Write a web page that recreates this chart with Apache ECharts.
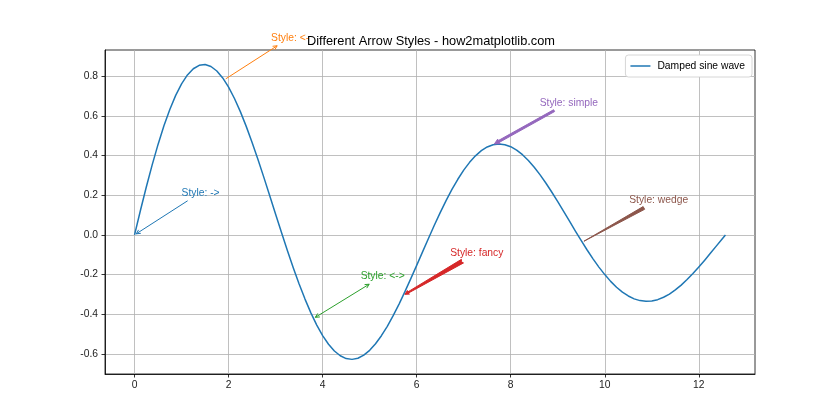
<!DOCTYPE html>
<html><head><meta charset="utf-8">
<script src="https://cdn.jsdelivr.net/npm/echarts@6/dist/echarts.min.js"></script>
<style>html,body{margin:0;padding:0;background:#fff}#c{width:840px;height:420px}</style>
</head><body><div id="c"></div>
<script>
// ---- data ----
const xValues = [0,0.125,0.25,0.375,0.5,0.625,0.75,0.875,1,1.125,1.25,1.375,1.5,1.625,1.75,1.875,
  2,2.125,2.25,2.375,2.5,2.625,2.75,2.875,3,3.125,3.25,3.375,3.5,3.625,3.75,3.875,
  4,4.125,4.25,4.375,4.5,4.625,4.75,4.875,5,5.125,5.25,5.375,5.5,5.625,5.75,5.875,
  6,6.125,6.25,6.375,6.5,6.625,6.75,6.875,7,7.125,7.25,7.375,7.5,7.625,7.75,7.875,
  8,8.125,8.25,8.375,8.5,8.625,8.75,8.875,9,9.125,9.25,9.375,9.5,9.625,9.75,9.875,
  10,10.125,10.25,10.375,10.5,10.625,10.75,10.875,11,11.125,11.25,11.375,11.5,11.625,11.75,11.875,
  12,12.125,12.25,12.375,12.5,12.566];
const yValues = [0,0.1231,0.2413,0.3528,0.4561,0.5497,0.6324,0.7032,0.7614,0.8063,0.8375,0.8549,0.8586,0.8488,0.8260,0.7910,
  0.7445,0.6874,0.6213,0.5470,0.4661,0.3799,0.2899,0.1976,0.1045,0.0121,-0.0782,-0.1650,-0.2472,-0.3235,-0.3928,-0.4544,
  -0.5073,-0.5510,-0.5851,-0.6092,-0.6233,-0.6273,-0.6215,-0.6061,-0.5816,-0.5487,-0.5081,-0.4607,-0.4071,-0.3485,-0.2860,-0.2206,
  -0.1534,-0.0854,-0.0178,0.0485,0.1123,0.1728,0.2291,0.2805,0.3263,0.3658,0.3986,0.4245,0.4431,0.4544,0.4582,0.4548,
  0.4446,0.4276,0.4043,0.3754,0.3413,0.3027,0.2604,0.2151,0.1676,0.1186,0.0690,0.0195,-0.0291,-0.0760,-0.1205,-0.1622,
  -0.2001,-0.2342,-0.2636,-0.2885,-0.3078,-0.3223,-0.3311,-0.3348,-0.3329,-0.3263,-0.3142,-0.2981,-0.2772,-0.2530,-0.2250,-0.1946,
  -0.1616,-0.1272,-0.0914,-0.0552,-0.0190,0];
const xTicks = [0,2,4,6,8,10,12];
const yTicks = [-0.6,-0.4,-0.2,0,0.2,0.4,0.6,0.8];
const annStyles = ['->','<-','<->','fancy','simple','wedge'];
const annX = [0,1.904,3.808,5.712,7.616,9.520];
const annY = [0,0.7811,-0.4207,-0.3047,0.4537,-0.0367];
const annTextX = [1,2.904,4.808,6.712,8.616,10.520];
const annTextY = [0.2,0.9811,-0.2207,-0.1047,0.6537,0.1633];
const seriesName = 'Damped sine wave';
const titleText = 'Different Arrow Styles - how2matplotlib.com';

// ---- styles ----
const annColors = ['#1f77b4','#ff7f0e','#2ca02c','#d62728','#9467bd','#8c564b'];
const FONT = '"Liberation Sans", Arial, sans-serif';
const FS = 10.3;      // annotation font px
const MS = FS;        // arrow mutation scale
const PAD = 2, SHR = 2;

const mctx = document.createElement('canvas').getContext('2d');
mctx.font = FS + 'px ' + FONT;
function measure(t){ return mctx.measureText(t).width; }

function arrowEls(st, s, e, color){
  const dx=e[0]-s[0], dy=e[1]-s[1], L=Math.hypot(dx,dy), ux=dx/L, uy=dy/L, nx=-uy, ny=ux;
  const P=(a,al,pp)=>[a[0]+ux*al+nx*pp, a[1]+uy*al+ny*pp];
  const ls={stroke:color, lineWidth:1, fill:null, lineJoin:'miter'};
  const ps={stroke:color, lineWidth:1, fill:color, lineJoin:'round'};
  const els=[];
  if(st==='->'||st==='<-'||st==='<->'){
    els.push({type:'line', shape:{x1:s[0],y1:s[1],x2:e[0],y2:e[1]}, style:ls});
    const hl=0.4*MS, hw=0.2*MS;
    if(st!=='<-') els.push({type:'polyline', shape:{points:[P(e,-hl,hw), e, P(e,-hl,-hw)]}, style:ls});
    if(st!=='->') els.push({type:'polyline', shape:{points:[P(s,hl,hw), s, P(s,hl,-hw)]}, style:ls});
  } else {
    let pts;
    if(st==='simple'){
      const hl=0.5*MS, hw=0.25*MS, tw=0.1*MS;
      pts=[P(s,0,tw),P(e,-hl,tw),P(e,-hl,hw),e,P(e,-hl,-hw),P(e,-hl,-tw),P(s,0,-tw)];
    } else if(st==='fancy'){
      const hl=0.4*MS, hw=0.2*MS, tw=0.2*MS;
      pts=[P(s,0.12*MS,0),P(s,0,tw),P(e,-0.8*hl,0.3*tw),P(e,-hl,hw),e,P(e,-hl,-hw),P(e,-0.8*hl,-0.3*tw),P(s,0,-tw)];
    } else {
      const tw=0.15*MS;
      pts=[P(s,0,tw),e,P(s,0,-tw)];
    }
    els.push({type:'polygon', shape:{points:pts}, style:ps});
  }
  return els;
}

function renderItem(params, api){
  const i = params.dataIndex;
  const t = api.coord([api.value(0), api.value(1)]);
  const p = api.coord([api.value(2), api.value(3)]);
  const st = annStyles[i], color = annColors[i];
  const label = 'Style: ' + st;
  const w = measure(label);
  const asc = FS*0.78, desc = FS*0.24;
  const L=p[0]-PAD, R=p[0]+w+PAD, T=p[1]-asc-PAD, B=p[1]+desc+PAD;
  const cx=p[0]+w/2, cy=p[1]+(desc-asc)/2;
  const dx=t[0]-cx, dy=t[1]-cy;
  let tt=Infinity;
  if(dx>0) tt=Math.min(tt,(R-cx)/dx); if(dx<0) tt=Math.min(tt,(L-cx)/dx);
  if(dy>0) tt=Math.min(tt,(B-cy)/dy); if(dy<0) tt=Math.min(tt,(T-cy)/dy);
  let s=[cx+dx*tt, cy+dy*tt];
  const len=Math.hypot(t[0]-s[0],t[1]-s[1]);
  const ux=(t[0]-s[0])/len, uy=(t[1]-s[1])/len;
  s=[s[0]+ux*SHR, s[1]+uy*SHR];
  const e=[t[0]-ux*SHR, t[1]-uy*SHR];
  const children = arrowEls(st, s, e, color);
  children.push({type:'text', x:p[0], y:p[1]+desc, style:{text:label, fill:color, font:FS+'px '+FONT, align:'left', verticalAlign:'bottom', textAlign:'left', textVerticalAlign:'bottom'}});
  return {type:'group', children};
}

const chart = echarts.init(document.getElementById('c'), null, {renderer:'canvas'});
const lineData = xValues.map((x,i)=>[x, yValues[i]]);
const annData = annX.map((x,i)=>[x, annY[i], annTextX[i], annTextY[i]]);

chart.setOption({
  animation:false,
  backgroundColor:'#fff',
  textStyle:{fontFamily:FONT},
  grid:{left:105, right:85, top:50, bottom:46, show:true, borderColor:'#000', borderWidth:0.8, backgroundColor:'transparent'},
  graphic:[{type:'text', x:431, y:41, z:100, style:{text:titleText, font:'12.8px '+FONT, fill:'#000', align:'center', verticalAlign:'middle', textAlign:'center', textVerticalAlign:'middle'}}],
  legend:{data:[{name:seriesName, icon:'rect'}], right:88, top:55, orient:'vertical', itemWidth:20, itemHeight:1.5, itemGap:4,
    padding:[6,7,6,5], borderColor:'#cccccc', borderWidth:0.8, borderRadius:3, backgroundColor:'#fff',
    textStyle:{fontSize:10.3, color:'#000', fontFamily:FONT, padding:[0,0,0,2]}},
  xAxis:{type:'value', min:-0.6283, max:13.1947,
    axisLine:{show:true, onZero:false, lineStyle:{color:'#000', width:0.8}},
    axisTick:{show:true, length:3.5, customValues:xTicks, lineStyle:{color:'#000', width:0.8}},
    axisLabel:{customValues:xTicks, margin:6.5, fontSize:10.3, color:'#222', fontFamily:FONT, formatter:v=>String(v)},
    splitLine:{show:true, lineStyle:{color:'#b0b0b0', width:0.8}}},
  yAxis:{type:'value', min:-0.7010, max:0.9319,
    axisLine:{show:true, onZero:false, lineStyle:{color:'#000', width:0.8}},
    axisTick:{show:true, length:3.5, customValues:yTicks, lineStyle:{color:'#000', width:0.8}},
    axisLabel:{customValues:yTicks, margin:7, fontSize:10.3, color:'#222', fontFamily:FONT, formatter:v=>v.toFixed(1)},
    splitLine:{show:true, lineStyle:{color:'#b0b0b0', width:0.8}}},
  series:[
    {name:seriesName, type:'line', data:lineData, symbol:'none', smooth:false, z:3,
      lineStyle:{color:'#1f77b4', width:1.5, join:'round'}, itemStyle:{color:'#1f77b4'}},
    {name:'annotations', type:'custom', data:annData, renderItem, clip:false, z:4,
      encode:{x:[0,2], y:[1,3]}, silent:true}
  ]
});
</script></body></html>
